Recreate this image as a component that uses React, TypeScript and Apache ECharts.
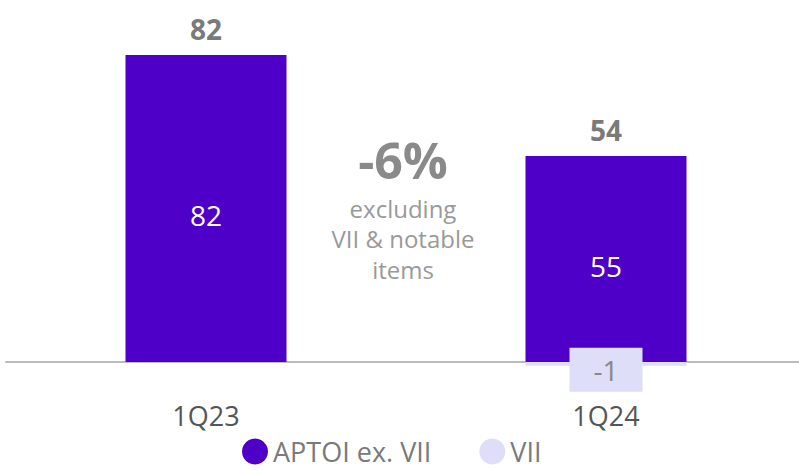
import React, { useEffect, useRef } from "react";
import * as echarts from "echarts";

const categories = ["1Q23", "1Q24"];
const aptoiExVii = [82, 55];
const vii: (number | null)[] = [null, -1];
const totals = [82, 54];
const legendNames = ["APTOI ex. VII", "VII"];
const annotationMain = "-6%";
const annotationSub = ["excluding", "VII & notable", "items"];

const PURPLE = "#4F00C8";
const LAVENDER = "#DEDEF8";
const FONT = "Open Sans";

export default function App() {
  const ref = useRef<HTMLDivElement>(null);
  useEffect(() => {
    if (!ref.current) return;
    const chart = echarts.init(ref.current, null, { renderer: "svg" });
    chart.setOption({
      animation: false,
      textStyle: { fontFamily: FONT },
      grid: { left: 6, width: 800, top: 25, height: 355.7 },
      legend: {
        bottom: 5,
        left: 242,
        padding: 0,
        itemWidth: 26,
        itemHeight: 26,
        itemGap: 48,
        icon: "circle",
        textStyle: { fontSize: 27, lineHeight: 27, color: "#7a7a7a", fontFamily: FONT },
        data: legendNames,
      },
      xAxis: {
        type: "category",
        data: categories,
        axisLine: { lineStyle: { color: "#bbbbbb", width: 2 } },
        axisTick: { show: false },
        axisLabel: { fontSize: 27, color: "#555555", margin: 21, fontFamily: FONT },
      },
      yAxis: {
        type: "value",
        min: -5,
        max: 90,
        show: false,
        splitLine: { show: false },
      },
      series: [
        {
          name: legendNames[0],
          type: "bar",
          stack: "total",
          barWidth: 161,
          data: aptoiExVii,
          itemStyle: { color: PURPLE },
          label: {
            show: true,
            position: "inside",
            offset: [0, 7],
            color: "#ffffff",
            fontSize: 28,
            fontFamily: FONT,
          },
          z: 3,
        },
        {
          name: legendNames[1],
          type: "bar",
          stack: "total",
          barWidth: 161,
          data: vii.map((v) =>
            v === null ? { value: null, label: { show: false } } : v
          ),
          itemStyle: { color: LAVENDER },
          label: {
            show: true,
            position: "inside",
            offset: [0, 6],
            color: "#888888",
            fontSize: 28,
            fontFamily: FONT,
            backgroundColor: LAVENDER,
            padding: [8, 24, 8, 24],
          },
          z: 4,
        },
        {
          type: "scatter",
          symbolSize: 0,
          silent: true,
          data: aptoiExVii,
          label: {
            show: true,
            position: "top",
            distance: 12,
            formatter: (p: any) => String(totals[p.dataIndex]),
            color: "#555555",
            fontSize: 28,
            fontWeight: "bold",
            fontFamily: FONT,
          },
        },
      ],
      graphic: [
        {
          type: "text",
          x: 403,
          y: 135,
          style: {
            text: annotationMain,
            fontSize: 50,
            fontWeight: "bold",
            fill: "#8a8a8a",
            fontFamily: FONT,
            textAlign: "center",
          },
        },
        {
          type: "text",
          x: 403,
          y: 193,
          style: {
            text: annotationSub.join("\n"),
            fontSize: 24,
            lineHeight: 30.5,
            fill: "#999999",
            fontFamily: FONT,
            textAlign: "center",
          },
        },
      ],
    });
    return () => chart.dispose();
  }, []);
  return (
    <div style={{ position: "absolute", left: 0, top: 0, width: 799, height: 470, overflow: "hidden" }}>
      <div ref={ref} style={{ width: 812, height: 470 }} />
    </div>
  );
}
